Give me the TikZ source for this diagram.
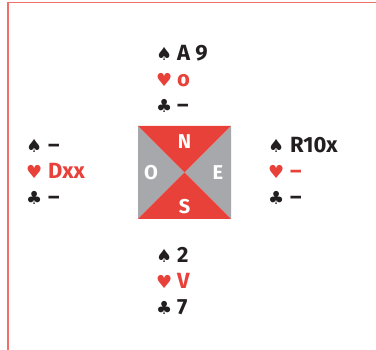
\documentclass[tikz,border=0pt]{standalone}
\usepackage{fontspec}
\setmainfont{Fira Sans}
\newfontfamily\suitfont{DejaVu Sans}
\definecolor{cardred}{HTML}{E8413A}
\definecolor{cardgray}{HTML}{A7A8AB}
\definecolor{ink}{HTML}{231F20}
\definecolor{framered}{HTML}{F07068}
\tikzset{
  txt/.style={inner sep=0pt, anchor=base west, text=ink, font=\fontsize{22}{22}\selectfont\bfseries},
  redtxt/.style={txt, text=cardred},
  suit/.style={inner sep=0pt, anchor=base west, text=ink, font=\suitfont\fontsize{18}{18}\selectfont},
  redsuit/.style={suit, text=cardred},
  dir/.style={inner sep=0pt, anchor=center, text=white, font=\fontsize{20}{20}\selectfont\bfseries},
  frameline/.style={draw=framered, line width=1.3pt}
}
\begin{document}
\begin{tikzpicture}[x=1pt,y=-1pt]
\useasboundingbox (0,0) rectangle (376,350);
\draw[frameline] (376,2.5) -- (8,2.5) -- (8,350);
% compass square
\coordinate (tl) at (138,126);
\coordinate (tr) at (231,126);
\coordinate (br) at (231,219);
\coordinate (bl) at (138,219);
\coordinate (c) at (184.5,172.5);
\fill[cardgray] (tl) -- (c) -- (bl) -- cycle;
\fill[cardgray] (tr) -- (c) -- (br) -- cycle;
\fill[cardred] (tl) -- (tr) -- (c) -- cycle;
\fill[cardred] (bl) -- (br) -- (c) -- cycle;
\node[dir] (dN) at (184.5,141.5) {N};
\node[dir] (dS) at (184.5,207) {S};
\node[dir] (dO) at (151,172.5) {O};
\node[dir] (dE) at (218,172.5) {E};
% North
\node[suit] (ns) at (156,61) {♠};
\node[txt] (nst) at (177,61) {A 9};
\node[redsuit] (nh) at (156,87) {♥};
\node[redtxt] (nht) at (177,87) {o};
\node[suit] (nc) at (156,113) {♣};
\node[txt] (nct) at (177,113) {–};
% West
\node[suit] (ws) at (26,153) {♠};
\node[txt] (wst) at (48,153) {–};
\node[redsuit] (wh) at (26,179) {♥};
\node[redtxt] (wht) at (48,179) {Dxx};
\node[suit] (wc) at (26,205) {♣};
\node[txt] (wct) at (48,205) {–};
% East
\node[suit] (es) at (268,153) {♠};
\node[txt] (est) at (290,153) {R10x};
\node[redsuit] (eh) at (268,179) {♥};
\node[redtxt] (eht) at (290,179) {–};
\node[suit] (ec) at (268,205) {♣};
\node[txt] (ect) at (290,205) {–};
% South
\node[suit] (ss) at (156,263) {♠};
\node[txt] (sst) at (177,263) {2};
\node[redsuit] (sh) at (156,289) {♥};
\node[redtxt] (sht) at (177,289) {V};
\node[suit] (sc) at (156,315) {♣};
\node[txt] (sct) at (177,315) {7};
\end{tikzpicture}
\end{document}
